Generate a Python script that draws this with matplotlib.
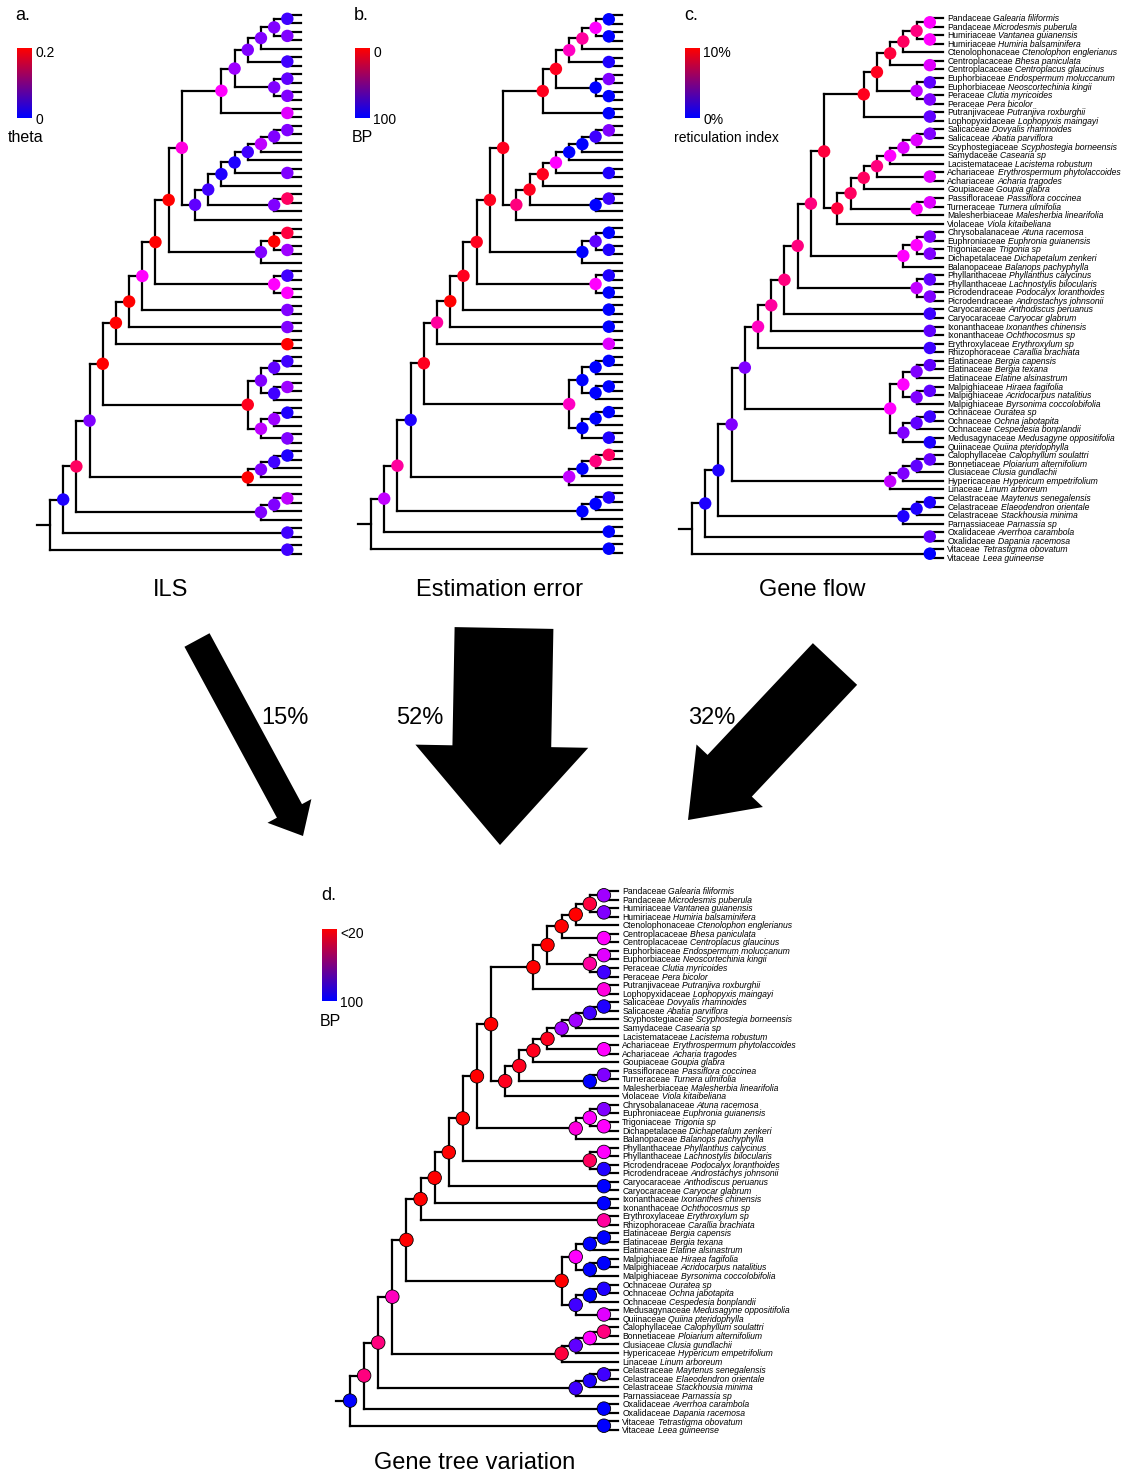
import numpy as np
import matplotlib
matplotlib.use("Agg")
import matplotlib.pyplot as plt
from matplotlib.colors import LinearSegmentedColormap
from matplotlib.collections import LineCollection
from matplotlib.patches import FancyArrow

plt.rcParams['font.family'] = ['Liberation Sans', 'DejaVu Sans']

# ---- topology (tips numbered 1..64 top to bottom) ----
clade_a = "((((((1,2),(3,4)),5),(6,7)),((8,9),(10,11))),(12,13))"
clade_b = "((((((((14,15),16),17),18),(19,20)),21),((22,23),24)),25)"
tree = ("(((((((((((" + clade_a + "," + clade_b + ")"
        + ",(((26,27),(28,29)),30))"
        + ",((31,32),(33,34)))"
        + ",(35,36))"
        + ",(37,38))"
        + ",(39,40))"
        + ",((((41,42),43),((44,45),46)),(((47,48),49),(50,51))))"
        + ",((((52,53),54),55),56))"
        + ",(((57,58),59),60))"
        + ",(61,62))"
        + ",(63,64))")

families = ["Pandaceae", "Pandaceae", "Humiriaceae", "Humiriaceae", "Ctenolophonaceae",
            "Centroplacaceae", "Centroplacaceae", "Euphorbiaceae", "Euphorbiaceae", "Peraceae",
            "Peraceae", "Putranjivaceae", "Lophopyxidaceae", "Salicaceae", "Salicaceae",
            "Scyphostegiaceae", "Samydaceae", "Lacistemataceae", "Achariaceae", "Achariaceae",
            "Goupiaceae", "Passifloraceae", "Turneraceae", "Malesherbiaceae", "Violaceae",
            "Chrysobalanaceae", "Euphroniaceae", "Trigoniaceae", "Dichapetalaceae", "Balanopaceae",
            "Phyllanthaceae", "Phyllanthaceae", "Picrodendraceae", "Picrodendraceae", "Caryocaraceae",
            "Caryocaraceae", "Ixonanthaceae", "Ixonanthaceae", "Erythroxylaceae", "Rhizophoraceae",
            "Elatinaceae", "Elatinaceae", "Elatinaceae", "Malpighiaceae", "Malpighiaceae",
            "Malpighiaceae", "Ochnaceae", "Ochnaceae", "Ochnaceae", "Medusagynaceae",
            "Quiinaceae", "Calophyllaceae", "Bonnetiaceae", "Clusiaceae", "Hypericaceae",
            "Linaceae", "Celastraceae", "Celastraceae", "Celastraceae", "Parnassiaceae",
            "Oxalidaceae", "Oxalidaceae", "Vitaceae", "Vitaceae"]
species = ["Galearia filiformis", "Microdesmis puberula", "Vantanea guianensis",
           "Humiria balsaminifera", "Ctenolophon englerianus", "Bhesa paniculata",
           "Centroplacus glaucinus", "Endospermum moluccanum", "Neoscortechinia kingii",
           "Clutia myricoides", "Pera bicolor", "Putranjiva roxburghii", "Lophopyxis maingayi",
           "Dovyalis rhamnoides", "Abatia parviflora", "Scyphostegia borneensis", "Casearia sp",
           "Lacistema robustum", "Erythrospermum phytolaccoides", "Acharia tragodes",
           "Goupia glabra", "Passiflora coccinea", "Turnera ulmifolia", "Malesherbia linearifolia",
           "Viola kitaibeliana", "Atuna racemosa", "Euphronia guianensis", "Trigonia sp",
           "Dichapetalum zenkeri", "Balanops pachyphylla", "Phyllanthus calycinus",
           "Lachnostylis bilocularis", "Podocalyx loranthoides", "Androstachys johnsonii",
           "Anthodiscus peruanus", "Caryocar glabrum", "Ixonanthes chinensis", "Ochthocosmus sp",
           "Erythroxylum sp", "Carallia brachiata", "Bergia capensis", "Bergia texana",
           "Elatine alsinastrum", "Hiraea fagifolia", "Acridocarpus natalitius",
           "Byrsonima coccolobifolia", "Ouratea sp", "Ochna jabotapita", "Cespedesia bonplandii",
           "Medusagyne oppositifolia", "Quiina pteridophylla", "Calophyllum soulattri",
           "Ploiarium alternifolium", "Clusia gundlachii", "Hypericum empetrifolium",
           "Linum arboreum", "Maytenus senegalensis", "Elaeodendron orientale",
           "Stackhousia minima", "Parnassia sp", "Averrhoa carambola", "Dapania racemosa",
           "Tetrastigma obovatum", "Leea guineense"]

nan = np.nan
# node values in postorder (63 internal nodes, last = root)
theta = [0.025, 0.05, 0.05, 0.05, 0.025, 0.05, 0.038, 0.05, 0.05, 0.062, 0.088, 0.1,
         0.05, 0.05, 0.075, 0.025, 0.05, 0.012, 0.012, 0.162, 0.05, 0.025, 0.038, 0.112,
         0.175, 0.062, 0.2, 0.05, 0.2,
         0.025, 0.1, 0.1, 0.2,
         0.05, 0.1, 0.05, 0.2, 0.2, 0.2,
         0.025, 0.038, 0.062, 0.025, 0.05, 0.012, 0.062, 0.05, 0.075, 0.188, 0.2,
         0.012, 0.025, 0.05, 0.2, 0.05,
         0.075, 0.05, 0.05, 0.162,
         0.025, 0.012, 0.025, nan]
bp_concat = [100, 100, 50, 31, 94, 38, 75, 100, 100, 6, 100, 6,
             75, 88, 100, 100, 94, 50, 6, 88, 100, 6, 25, 6,
             100, 94, 81, 100, 6,
             94, 100, 50, 6,
             100, 6, 100, 0, 56, 31,
             100, 100, 100, 100, 100, 100, 100, 94, 100, 38, 6,
             19, 25, 100, 62, 94,
             94, 100, 100, 31,
             100, 62, 100, nan]
reticulation = [5, 5, 7.5, 8.1, 4.4, 8.8, 1.9, 2.5, 3.8, 9.4, 1.9, 9.4,
                2.5, 4.4, 4.4, 5, 4.4, 7.5, 8.1, 4.4, 5, 8.1, 8.8, 8.8,
                2.5, 2.5, 5, 5, 7.5,
                1.9, 2.5, 3.8, 7.5,
                1.2, 7.5, 1.9, 6.9, 1.2, 6.2,
                1.9, 2.5, 1.9, 2.5, 5, 1.2, 1.9, 0.6, 2.5, 5, 2.5,
                1.9, 1.9, 2.5, 3.8, 2.5,
                0.6, 0.6, 0.6, 0.6,
                1.9, 0.6, 0, nan]
bp_genetree = [75, 80, 30, 20, 60, 20, 65, 90, 45, 20, 55, 20,
               95, 90, 75, 75, 60, 25, 25, 80, 100, 25, 25, 20,
               80, 60, 60, 55, 20,
               60, 95, 35, 20,
               100, 20, 100, 20, 45, 20,
               100, 100, 100, 100, 60, 95, 100, 65, 90, 20, 20,
               40, 60, 85, 30, 50,
               90, 95, 90, 40,
               100, 40, 100, 100]

arrow_pct = [15, 52, 32]


def parse(s):
    pos = 0
    nodes = []

    def rec():
        nonlocal pos
        if s[pos] == '(':
            pos += 1
            kids = [rec()]
            while s[pos] == ',':
                pos += 1
                kids.append(rec())
            pos += 1
            nodes.append(kids)
            return ('n', len(nodes) - 1)
        j = pos
        while s[pos].isdigit():
            pos += 1
        return ('t', int(s[j:pos]))

    rec()
    return nodes


nodes = parse(tree)
NT = 19
nx, ny, nh = [], [], []
for kids in nodes:
    ys, hs = [], []
    for kind, k in kids:
        if kind == 't':
            hs.append(0); ys.append(k)
        else:
            hs.append(nh[k]); ys.append(ny[k])
    h = max(hs) + 1
    nh.append(h)
    nx.append(NT - h)
    ny.append((ys[0] + ys[-1]) / 2)


def child_xy(c):
    kind, k = c
    return (NT, k) if kind == 't' else (nx[k], ny[k])


W, H = 1126, 1475
fig = plt.figure(figsize=(W / 100, H / 100), dpi=100)

node_cmap = LinearSegmentedColormap.from_list("nodes", ["#0000ff", "#ff00ff", "#ff0000"])
bar_cmap = LinearSegmentedColormap.from_list("bar", ["#0000ff", "#ff0000"])


def tree_axes(root_px, tip_px, y1_px, y64_px):
    ux = (tip_px - root_px) / NT
    uy = (y64_px - y1_px) / 63
    left = root_px - 1.5 * ux
    right = root_px + (NT + 0.5) * ux
    top = y1_px - uy
    bottom = y1_px + 64 * uy
    ax = fig.add_axes([left / W, 1 - bottom / H, (right - left) / W, (bottom - top) / H])
    ax.set_xlim(-1.5, NT + 0.5)
    ax.set_ylim(65, 0)
    ax.axis('off')
    return ax


def draw_tree(ax, frac, edge=None, size=80, labels=False):
    segs = []
    for i, kids in enumerate(nodes):
        cxy = [child_xy(c) for c in kids]
        segs.append([(nx[i], cxy[0][1]), (nx[i], cxy[-1][1])])
        for cx, cy in cxy:
            segs.append([(nx[i], cy), (cx, cy)])
    segs.append([(-1, ny[-1]), (0, ny[-1])])
    ax.add_collection(LineCollection(segs, colors='black', linewidths=1.6,
                                     capstyle='projecting', zorder=1))
    frac = np.asarray(frac, dtype=float)
    ok = ~np.isnan(frac)
    ax.scatter(np.array(nx)[ok], np.array(ny)[ok], s=size,
               c=node_cmap(np.clip(frac[ok], 0, 1)),
               edgecolors=edge if edge else 'none', linewidths=0.6,
               zorder=3, clip_on=False)
    if labels:
        for i in range(64):
            fam = ax.annotate(families[i], xy=(NT, i + 1), xytext=(3, -2.2),
                              textcoords='offset points', va='baseline', ha='left',
                              fontsize=6.2, annotation_clip=False)
            ax.annotate(species[i], xy=(1, 0), xycoords=fam, xytext=(1.6, 0),
                        textcoords='offset points', va='bottom', ha='left',
                        fontsize=6.2, style='italic', annotation_clip=False)


def colorbar(x, y0, y1, top_lab, bot_lab, name, name_x, name_size=11.5):
    cax = fig.add_axes([x / W, 1 - y1 / H, 15 / W, (y1 - y0) / H])
    cax.imshow(np.linspace(1, 0, 100)[:, None], cmap=bar_cmap, aspect='auto')
    cax.axis('off')
    over.text(x + 18, y0 + 5, top_lab, fontsize=10, va='center', ha='left')
    over.text(x + 18, y1 + 2, bot_lab, fontsize=10, va='center', ha='left')
    over.text(name_x, y1 + 20, name, fontsize=name_size, va='center', ha='center')


over = fig.add_axes([0, 0, 1, 1], zorder=-1)
over.set_xlim(0, W)
over.set_ylim(H, 0)
over.axis('off')

ax_a = tree_axes(50, 300.5, 14.5, 554)
draw_tree(ax_a, np.array(theta) / 0.2)
ax_b = tree_axes(371, 622, 15, 553)
draw_tree(ax_b, (100 - np.array(bp_concat)) / 100)
ax_c = tree_axes(692, 943, 18, 558)
draw_tree(ax_c, np.array(reticulation) / 10, labels=True)
ax_d = tree_axes(350, 618, 891, 1430)
draw_tree(ax_d, (100 - np.array(bp_genetree)) / 80, edge='black', size=95, labels=True)

# colour keys and panel letters
colorbar(17, 48, 118, "0.2", "0", "theta", 26)
colorbar(355, 48, 118, "0", "100", "BP", 362)
colorbar(685, 48, 118, "10%", "0%", "reticulation index", 726, name_size=10)
colorbar(322, 929, 1001, "<20", "100", "BP", 330)
for lab, x, y in [("a.", 15, 15), ("b.", 354, 15), ("c.", 684, 15), ("d.", 321, 895)]:
    over.text(x, y, lab, fontsize=13, va='center', ha='left')

# panel titles
for lab, x, y in [("ILS", 171, 590), ("Estimation error", 499, 590),
                  ("Gene flow", 812, 590), ("Gene tree variation", 475, 1463)]:
    over.text(x, y, lab, fontsize=17, va='center', ha='center')

# arrows, shaft width proportional to share
arrow_tails = [(197, 640), (504, 628), (835, 664)]
arrow_tips = [(303, 836), (500, 845), (688, 820)]
label_pos = [(285, 718), (420, 718), (712, 718)]
head_scale = [1.75, 1.75, 1.5]
for pct, (x0, y0), (x1, y1), (lx, ly), hs in zip(arrow_pct, arrow_tails, arrow_tips,
                                                  label_pos, head_scale):
    w = pct * 1.9
    over.add_patch(FancyArrow(x0, y0, x1 - x0, y1 - y0, width=w, head_width=w * hs,
                              head_length=w * 1.0, length_includes_head=True,
                              color='black', lw=0))
    over.text(lx, ly, f"{pct}%", fontsize=17, va='center', ha='center')

fig.savefig("out.png", dpi=100)
